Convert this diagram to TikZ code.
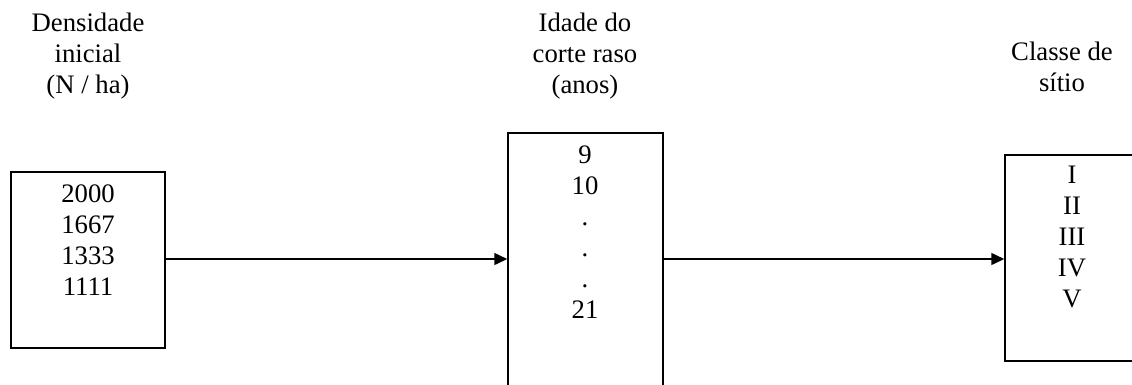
\documentclass[tikz,border=0pt]{standalone}
\usepackage{fontspec}
\setmainfont{Liberation Serif}
\usetikzlibrary{arrows.meta}
\begin{document}
\begin{tikzpicture}[x=1pt,y=-1pt,
  txt/.style={font=\fontsize{26.7}{31}\selectfont, align=center, inner sep=0pt, anchor=base},
  boxn/.style={draw, line width=1.5pt, rectangle, inner sep=0pt},
  conn/.style={line width=1.5pt, -{Triangle[length=13pt,width=12pt]}}]
\useasboundingbox (0,0) rectangle (1132,384);
\clip (0,0) rectangle (1132,384);
% headers (anchored at baseline of last line)
\node[txt] (h1) at (88,93) {Densidade\\inicial\\(N / ha)};
\node[txt] (h2) at (585,93) {Idade do\\corte raso\\(anos)};
\node[txt] (h3) at (1062,91) {Classe de\\sítio};
% boxes
\node[boxn, minimum width=154pt, minimum height=176pt] (b1) at (88,260) {};
\node[boxn, minimum width=155pt, minimum height=290pt] (b2) at (585.5,278) {};
\node[boxn, minimum width=140pt, minimum height=206pt] (b3) at (1075,258) {};
% contents
\node[txt] (c1) at (88,295) {2000\\1667\\1333\\1111};
\node[txt] (c2) at (585,318) {9\\10\\.\\.\\.\\21};
\node[txt] (c3) at (1072,307) {I\\II\\III\\IV\\V};
% connectors
\draw[conn] ([yshift=1pt]b1.east) -- ([yshift=1pt]b1.east -| b2.west);
\draw[conn] ([yshift=1pt]b1.east -| b2.east) -- ([yshift=1pt]b1.east -| b3.west);
\end{tikzpicture}
\end{document}
